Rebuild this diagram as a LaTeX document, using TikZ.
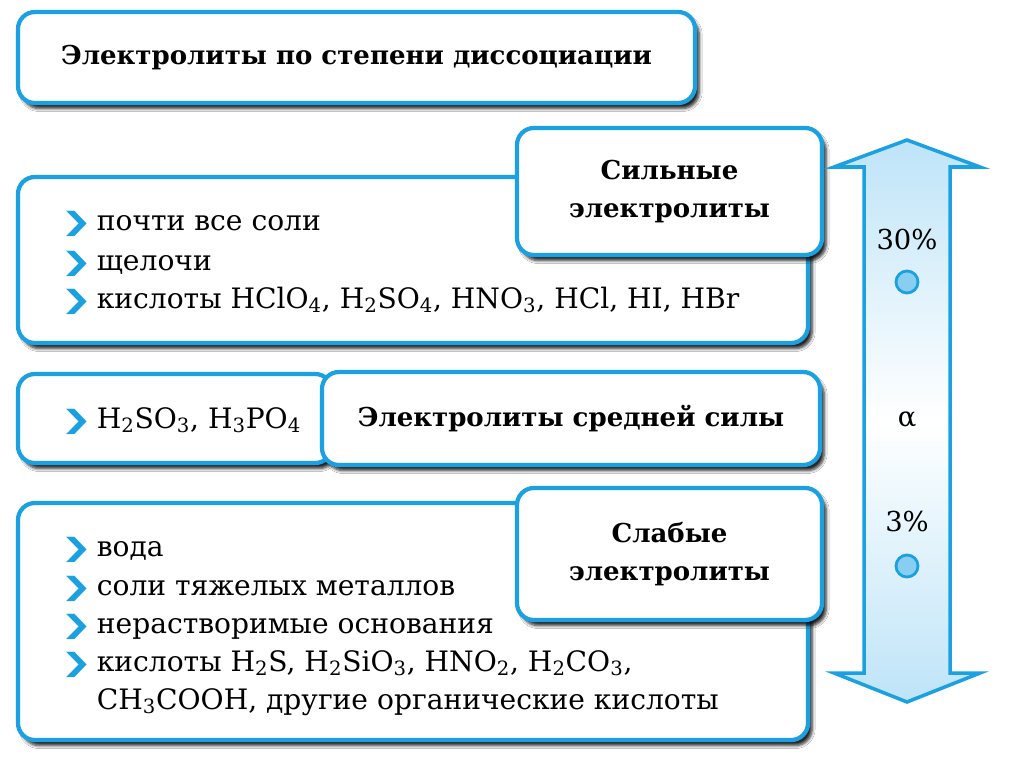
\documentclass[tikz,border=0pt]{standalone}
\usepackage{fontspec}
\usepackage{graphicx}
\setmainfont{DejaVu Serif}
\newfontfamily\symfont{DejaVu Sans}
\usetikzlibrary{shadows.blur}
\definecolor{boxblue}{RGB}{27,161,226}
\definecolor{arrowfill}{RGB}{190,228,248}
\definecolor{dotfill}{RGB}{135,206,240}
\newcommand{\pxl}{0.025cm}
\newcommand{\ix}[1]{\textsubscript{#1}}
\newcommand{\bul}{\makebox[26pt][l]{\symfont\color{boxblue}\fontsize{18}{18}\selectfont\scalebox{1.5}[1]{❯}}}

\begin{document}
\begin{tikzpicture}[x=0.025cm, y=-0.025cm,
                    box/.style={draw=boxblue, line width=3pt, fill=white, rounded corners=12pt,
                                blur shadow={shadow xshift=3pt, shadow yshift=-4pt, shadow blur steps=6, shadow opacity=85}},
                    head/.style={font=\fontsize{18.5}{27}\selectfont\bfseries, align=center},
                    item/.style={font=\fontsize{20}{22}\selectfont, anchor=base west, inner sep=0pt},
                    scale_arrow/.style={draw=boxblue, line width=2.5pt, top color=arrowfill, bottom color=arrowfill, middle color=white},
                    dot/.style={circle, draw=boxblue, line width=2pt, fill=dotfill, minimum size=22*\pxl, inner sep=0pt},
                    mark_lbl/.style={font=\fontsize{19.5}{22}\selectfont}]

            \useasboundingbox (0,0) rectangle (1011,768);
            \fill[white] (0,0) rectangle (1011,768);

            \node[box, head, minimum width=677*\pxl, minimum height=91*\pxl] (title) at (356.5,57.5)
                {Электролиты по степени диссоциации};

            \node[box, minimum width=790*\pxl, minimum height=166*\pxl] (strongbox) at (413,260) {};
            \node[box, head, minimum width=305*\pxl, minimum height=127*\pxl] (stronghead) at (669.5,191.5)
                {Сильные\\электролиты};
            \node[item] (s1) at (60,230) {\bul почти все соли};
            \node[item] (s2) at (60,270) {\bul щелочи};
            \node[item] (s3) at (60,308) {\bul кислоты HClO\ix4, H\ix2SO\ix4, HNO\ix3, HCl, HI, HBr};

            \node[box, minimum width=314*\pxl, minimum height=89*\pxl] (midbox) at (175,418.5) {};
            \node[box, head, minimum width=498*\pxl, minimum height=93*\pxl] (midhead) at (571,418.5)
                {Электролиты средней силы};
            \node[item] (m1) at (60,428) {\bul H\ix2SO\ix3, H\ix3PO\ix4};

            \node[box, minimum width=790*\pxl, minimum height=237*\pxl] (weakbox) at (413,621.5) {};
            \node[box, head, minimum width=305*\pxl, minimum height=132*\pxl] (weakhead) at (669.5,554)
                {Слабые\\электролиты};
            \node[item] (w1) at (60,556) {\bul вода};
            \node[item] (w2) at (60,595) {\bul соли тяжелых металлов};
            \node[item] (w3) at (60,633) {\bul нерастворимые основания};
            \node[item] (w4) at (60,671) {\bul кислоты H\ix2S, H\ix2SiO\ix3, HNO\ix2, H\ix2CO\ix3,};
            \node[item] (w5) at (60,709) {\hphantom{\bul}CH\ix3COOH, другие органические кислоты};

            \coordinate (tip_t) at (907,140);
            \coordinate (tip_b) at (907,702);
            \draw[scale_arrow] (tip_t) -- (980,167) -- (950,167) -- (950,673) -- (980,673) -- (tip_b)
                               -- (834,673) -- (864,673) -- (864,167) -- (834,167) -- cycle;

            \node[mark_lbl] (hi) at (907,240) {30\%};
            \node[dot] (hidot) at (907,282) {};
            \node[mark_lbl] (alpha) at (907,420) {α};
            \node[mark_lbl] (lo) at (907,522) {3\%};
            \node[dot] (lodot) at (907,566) {};
        \end{tikzpicture}
\end{document}
